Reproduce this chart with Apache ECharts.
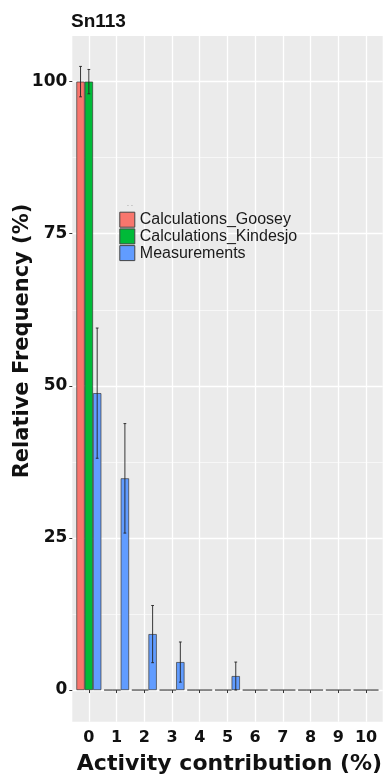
<!DOCTYPE html>
<html>
<head>
<meta charset="utf-8">
<script src="https://cdn.jsdelivr.net/npm/echarts@6/dist/echarts.min.js"></script>
<style>
html,body{margin:0;padding:0;background:#fff;}
#chart{width:388px;height:774px;}
</style>
</head>
<body>
<div id="chart"></div>
<script>
// ---- data ----
const categories = ['0','1','2','3','4','5','6','7','8','9','10'];
const seriesNames = ['Calculations_Goosey','Calculations_Kindesjo','Measurements'];
const gooseyValues = [100,0,0,0,0,0,0,0,0,0,0];
const gooseyErrors = [2.5,0,0,0,0,0,0,0,0,0,0];
const kindesjoValues = [100,0,0,0,0,0,0,0,0,0,0];
const kindesjoErrors = [2,0,0,0,0,0,0,0,0,0,0];
const measurementValues = [48.8,34.8,9.2,4.6,0,2.3,0,0,0,0,0];
const measurementErrors = [10.7,9,4.7,3.3,0,2.3,0,0,0,0,0];
const yMajorTicks = [0,25,50,75,100];
const yMinorTicks = [12.5,37.5,62.5,87.5];
const yRange = [-5.2, 107.5];
const colors = ['#F8766D','#00BA38','#619CFF'];

const values = [gooseyValues, kindesjoValues, measurementValues];
const errors = [gooseyErrors, kindesjoErrors, measurementErrors];

const chart = echarts.init(document.getElementById('chart'), null, {renderer:'canvas'});

const PANEL = {left:72.3, right:5.3, top:36, bottom:52.3};
const DATA = {left:75.0, right:8.1, top:36, bottom:52.3};

const barSeries = values.map((v, i) => ({
  name: seriesNames[i],
  type: 'bar',
  xAxisIndex: 1, yAxisIndex: 2,
  data: v,
  barGap: '0%',
  barCategoryGap: '10%',
  itemStyle: {color: colors[i], borderColor: '#3a3a3a', borderWidth: 0.7},
  emphasis: {disabled: true},
  z: 3
}));

const errSeries = values.map((v, i) => ({
  name: seriesNames[i] + '_err',
  type: 'custom',
  xAxisIndex: 1, yAxisIndex: 2,
  z: 5,
  silent: true,
  data: v.map((val, k) => [k, val, errors[i][k]]),
  renderItem: function (params, api) {
    const k = api.value(0), val = api.value(1), err = api.value(2);
    if (!err) return null;
    const catW = api.size([1, 0])[0];
    const barW = catW * 0.9 / 3;
    const c = api.coord([k, val]);
    const x = c[0] + (i - 1) * barW;
    const yTop = api.coord([k, val + err])[1];
    const yBot = api.coord([k, Math.max(val - err, 0)])[1];
    const hw = catW * 0.05;
    const st = {stroke: '#222', lineWidth: 0.9};
    return {
      type: 'group',
      children: [
        {type: 'line', shape: {x1: x, y1: yTop, x2: x, y2: yBot}, style: st},
        {type: 'line', shape: {x1: x - hw, y1: yTop, x2: x + hw, y2: yTop}, style: st},
        {type: 'line', shape: {x1: x - hw, y1: yBot, x2: x + hw, y2: yBot}, style: st}
      ]
    };
  }
}));

const option = {
  animation: false,
  backgroundColor: '#ffffff',
  title: {
    text: 'Sn113',
    left: 71, top: 12, padding: 0,
    textStyle: {fontFamily: 'Liberation Sans', fontWeight: 'bold', fontSize: 19, color: '#111'}
  },
  legend: {
    data: seriesNames,
    orient: 'vertical',
    left: 119.3, top: 211.7, padding: 0,
    itemWidth: 15, itemHeight: 15, itemGap: 0.7,
    selectedMode: false,
    icon: 'rect',
    itemStyle: {borderColor: '#444', borderWidth: 1},
    textStyle: {fontFamily: 'Liberation Sans', fontSize: 16, color: '#1a1a1a', lineHeight: 15, padding: [0,0,0,0]}
  },
  grid: [
    {left: PANEL.left, right: PANEL.right, top: PANEL.top, bottom: PANEL.bottom, show: true, backgroundColor: '#EBEBEB', borderWidth: 0},
    {left: DATA.left, right: DATA.right, top: DATA.top, bottom: DATA.bottom}
  ],
  xAxis: [
    {type: 'value', gridIndex: 0, show: false, min: 0, max: 1},
    {
      type: 'category', gridIndex: 1, data: categories,
      boundaryGap: true,
      axisLine: {show: false},
      axisTick: {show: true, alignWithLabel: true, length: 3, lineStyle: {color: '#333', width: 1}},
      axisLabel: {margin: 8, fontFamily: 'DejaVu Sans', fontWeight: 'bold', fontSize: 16, color: '#111', interval: 0},
      splitLine: {show: true, alignWithLabel: true, lineStyle: {color: '#ffffff', width: 1.3}}
    }
  ],
  yAxis: [
    {
      type: 'value', gridIndex: 0, min: yRange[0], max: yRange[1],
      axisLine: {show: false},
      axisTick: {show: true, length: 3, customValues: yMajorTicks, lineStyle: {color: '#333'}},
      axisLabel: {customValues: yMajorTicks, margin: 5, fontFamily: 'DejaVu Sans', fontWeight: 'bold', fontSize: 17, color: '#111'},
      splitLine: {show: true, lineStyle: {color: '#ffffff', width: 1.3}}
    },
    {
      type: 'value', gridIndex: 0, min: yRange[0], max: yRange[1], position: 'left',
      axisLine: {show: false},
      axisTick: {show: false, customValues: yMinorTicks},
      axisLabel: {show: false, customValues: yMinorTicks},
      splitLine: {show: true, lineStyle: {color: '#ffffff', width: 0.6}}
    },
    {
      type: 'value', gridIndex: 1, min: yRange[0], max: yRange[1], show: false,
      splitLine: {show: false}
    }
  ],
  graphic: [
    {type: 'text', left: 127, top: 201, style: {text: '. .', fontSize: 7, fill: '#777', fontFamily: 'Liberation Sans'}, silent: true},
    {type: 'text', x: 23, y: 341, rotation: Math.PI / 2,
      style: {text: 'Relative Frequency (%)', fontFamily: 'DejaVu Sans', fontWeight: 'bold', fontSize: 21, fill: '#111', align: 'center', verticalAlign: 'middle'}, silent: true},
    {type: 'text', x: 229.5, y: 764,
      style: {text: 'Activity contribution (%)', fontFamily: 'DejaVu Sans', fontWeight: 'bold', fontSize: 22, fill: '#111', align: 'center', verticalAlign: 'middle'}, silent: true}
  ],
  series: barSeries.concat(errSeries)
};
chart.setOption(option);
</script>
</body>
</html>
